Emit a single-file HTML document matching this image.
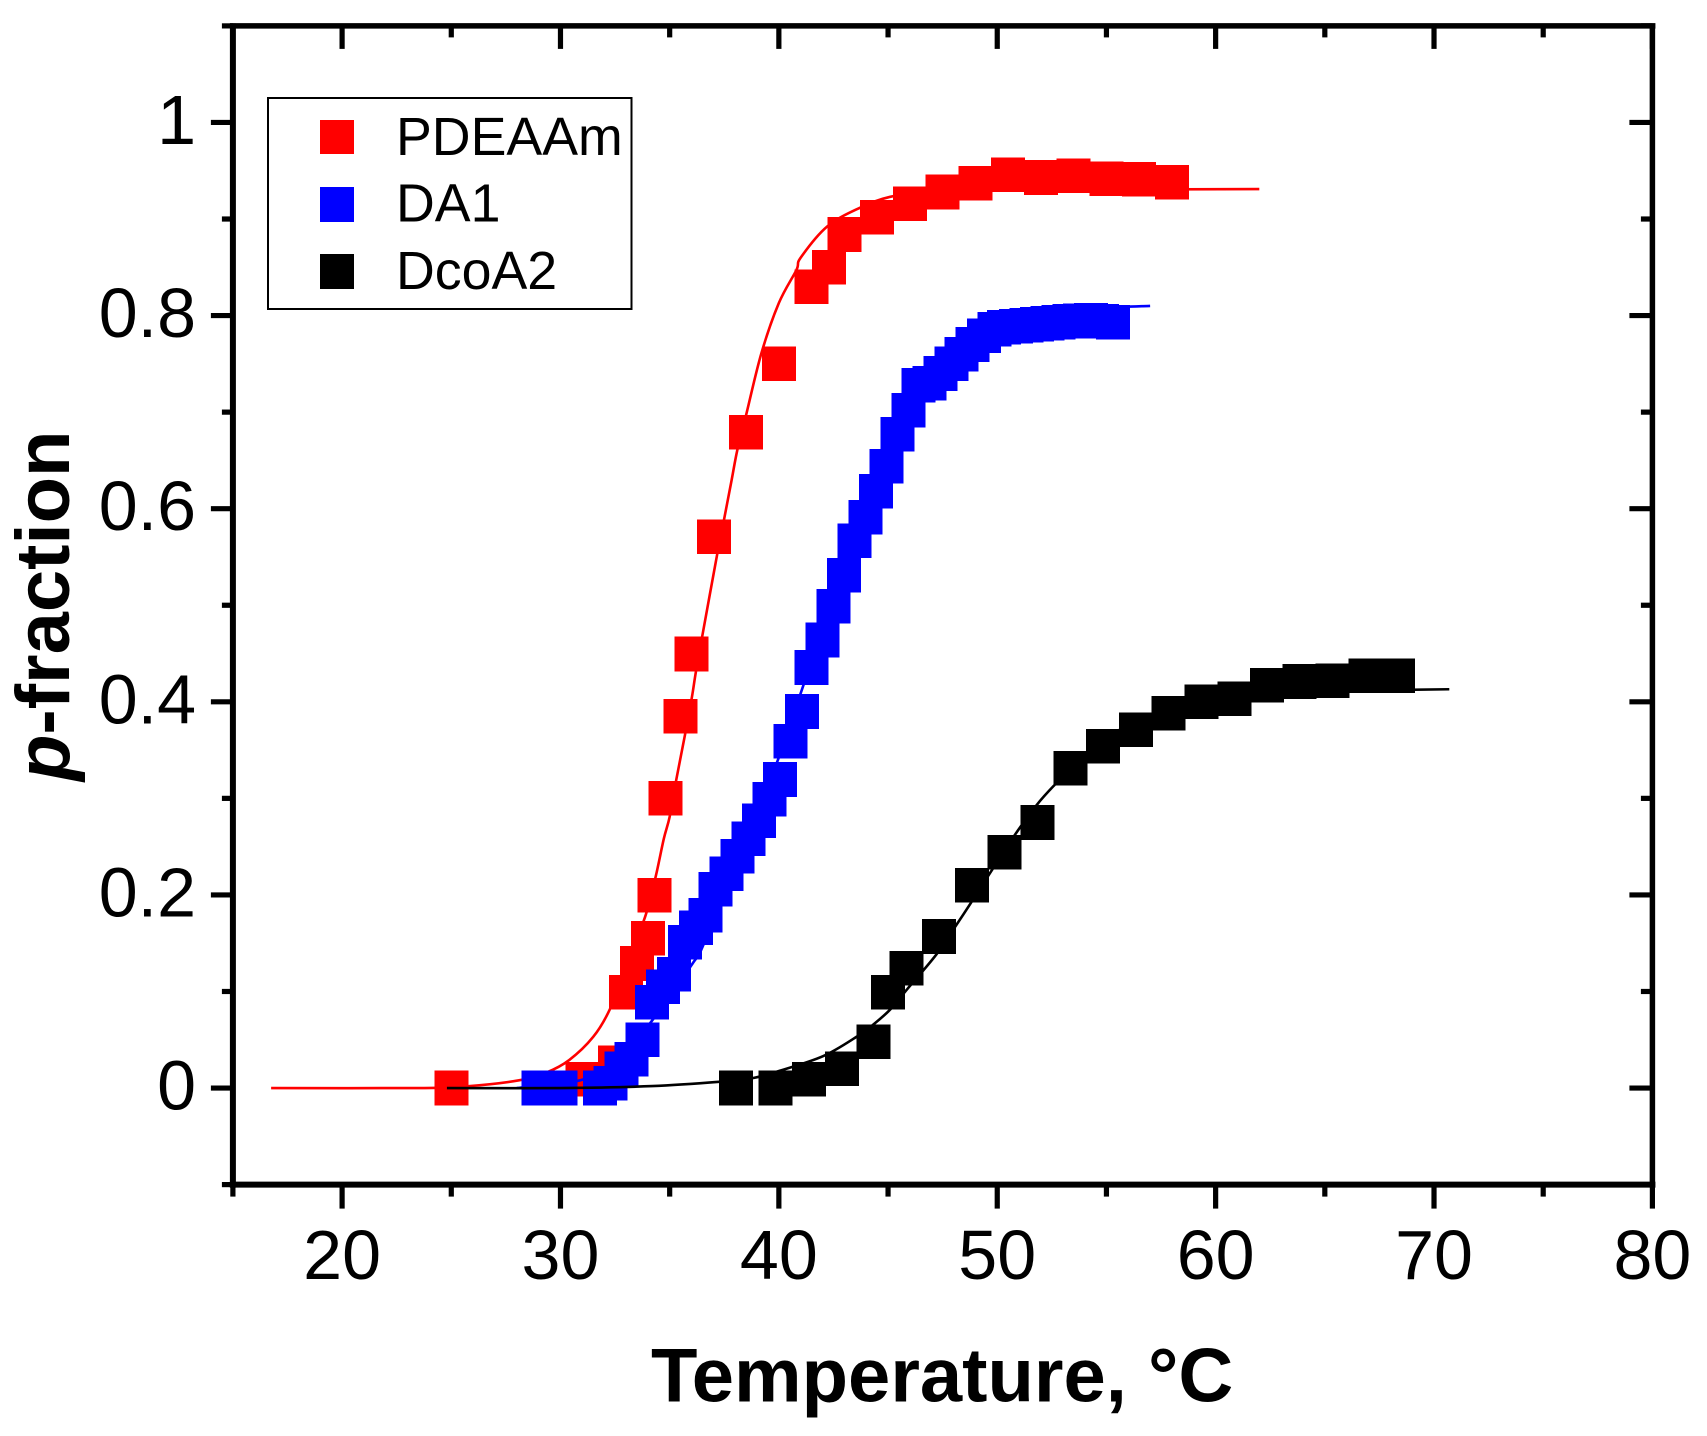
<!DOCTYPE html>
<html lang="en">
<head>
<meta charset="utf-8">
<title>p-fraction vs temperature</title>
<style>
html,body{margin:0;padding:0;background:#fff;}
#chart{display:block;width:1707px;height:1436px;font-family:"Liberation Sans",Arial,sans-serif;}
</style>
</head>
<body>
<svg id="chart" xmlns="http://www.w3.org/2000/svg" width="1707" height="1436" viewBox="0 0 1707 1436">
  <rect x="0" y="0" width="1707" height="1436" fill="#fff"/>
  <g id="series-layer"></g>
  <g id="axes-layer"></g>
  <text x="651" y="1401.5" font-size="76" font-weight="bold" fill="#000">Temperature, °C</text>
  <text transform="translate(69,781) rotate(-90)" font-size="76" font-weight="bold" fill="#000"><tspan font-style="italic">p</tspan>-fraction</text>
  <g>
    <rect x="268" y="98" width="363.5" height="211" fill="#fff" stroke="#000" stroke-width="2"/>
    <rect x="320" y="120" width="34" height="34" fill="#ff0000" shape-rendering="crispEdges"/>
    <text x="396" y="155" font-size="53.7" fill="#000">PDEAAm</text>
    <rect x="320" y="187" width="34" height="35" fill="#0000ff" shape-rendering="crispEdges"/>
    <text x="396" y="221.5" font-size="53.7" fill="#000">DA1</text>
    <rect x="320" y="254" width="34" height="35" fill="#000" shape-rendering="crispEdges"/>
    <text x="396" y="289" font-size="53.7" fill="#000">DcoA2</text>
  </g>
</svg>
<script>
// Tick data
const xMajorTicks = [20, 30, 40, 50, 60, 70, 80];
const xMinorTicks = [15, 25, 35, 45, 55, 65, 75];
const yMajorTicks = [0, 0.2, 0.4, 0.6, 0.8, 1];
const yMinorTicks = [-0.1, 0.1, 0.3, 0.5, 0.7, 0.9, 1.1];
const xTickLabels = ['20', '30', '40', '50', '60', '70', '80'];
const yTickLabels = ['0', '0.2', '0.4', '0.6', '0.8', '1'];

// PDEAAm measurements and fit
const pdeaamTemp = [25, 31, 32.5, 33, 33.5, 34, 34.3, 34.82, 35.5, 36, 37.02, 38.5, 40, 41.5, 42.3, 43, 44.5, 46, 47.5, 49, 50.5, 52, 53.5, 55, 56.5, 58];
const pdeaamFrac = [0, 0.0093, 0.026, 0.0994, 0.129, 0.155, 0.1995, 0.30, 0.385, 0.4495, 0.571, 0.679, 0.75, 0.83, 0.85, 0.884, 0.902, 0.916, 0.928, 0.937, 0.946, 0.943, 0.945, 0.9415, 0.941, 0.938];
const pdeaamFitTemp = [16.75, 23.55, 25.8, 28.1, 29.35, 30.4, 31.5, 32.25, 33, 33.9, 34.36, 34.73, 35, 35.3, 35.7, 36.02, 36.2, 36.5, 37.17, 37.5, 37.84, 38.1, 38.5, 39.2, 40, 40.8, 41, 42.2, 43.65, 45.1, 47, 50, 62];
const pdeaamFitFrac = [0, 0, 0.002, 0.008, 0.016, 0.029, 0.053, 0.081, 0.125, 0.179, 0.219, 0.258, 0.281, 0.319, 0.3656, 0.405, 0.431, 0.469, 0.552, 0.59, 0.63, 0.661, 0.697, 0.761, 0.813, 0.847, 0.86, 0.892, 0.911, 0.923, 0.928, 0.93, 0.931];

// DA1 measurements and fit
const da1Temp = [29, 29.5, 30, 31.8, 32.3, 32.8, 33.25, 33.75, 34.2, 34.7, 35.2, 35.7, 36.2, 36.65, 37.1, 37.6, 38.1, 38.6, 39.08, 39.58, 40.05, 40.54, 41.05, 41.5, 42, 42.5, 42.98, 43.47, 43.97, 44.45, 44.93, 45.44, 45.93, 46.4, 46.9, 47.4, 47.9, 48.36, 48.87, 49.4, 49.87, 50.3, 50.85, 51.35, 51.83, 52.3, 52.8, 53.3, 53.8, 54.3, 54.8, 55.3];
const da1Frac = [0, 0, 0, 0, 0.005, 0.02, 0.03, 0.05, 0.089, 0.105, 0.118, 0.151, 0.166, 0.179, 0.206, 0.222, 0.24, 0.258, 0.277, 0.299, 0.3195, 0.359, 0.39, 0.4355, 0.464, 0.499, 0.531, 0.567, 0.591, 0.618, 0.644, 0.677, 0.702, 0.728, 0.73, 0.74, 0.75, 0.76, 0.77, 0.779, 0.786, 0.788, 0.789, 0.79, 0.791, 0.792, 0.793, 0.794, 0.7945, 0.795, 0.794, 0.793];
const da1FitTemp = [28, 30.9, 32.5, 34.2, 36.05, 36.5, 38, 39.96, 41.1, 43, 45, 47, 49, 51, 53, 55, 57];
const da1FitFrac = [0, 0.008, 0.025, 0.07, 0.129, 0.146, 0.23, 0.34, 0.4155, 0.54, 0.66, 0.74, 0.78, 0.795, 0.803, 0.808, 0.81];

// DcoA2 measurements and fit
const dcoa2Temp = [38.03, 39.85, 41.37, 42.88, 44.34, 45, 45.85, 47.33, 48.84, 50.34, 51.85, 53.36, 54.85, 56.36, 57.85, 59.36, 60.87, 62.36, 63.85, 65.36, 66.87, 68.35];
const dcoa2Frac = [0, 0, 0.0093, 0.02, 0.048, 0.0994, 0.124, 0.157, 0.21, 0.244, 0.275, 0.331, 0.354, 0.371, 0.388, 0.40, 0.403, 0.417, 0.421, 0.422, 0.427, 0.427];
const dcoa2FitTemp = [24.8, 30, 34.2, 37.3, 38.8, 40.04, 42.02, 43.55, 44.39, 45.15, 45.9, 47.2, 48.13, 48.8, 49.65, 50.8, 51.8, 52.63, 54, 56, 58, 60, 62, 65, 70.7];
const dcoa2FitFrac = [0, 0, 0.002, 0.0065, 0.0103, 0.0179, 0.033, 0.053, 0.067, 0.0825, 0.103, 0.138, 0.169, 0.192, 0.222, 0.262, 0.293, 0.314, 0.345, 0.376, 0.39, 0.402, 0.408, 0.411, 0.413];

const SVG_NS = 'http://www.w3.org/2000/svg';
const xDomain = [15, 80];
const xPixels = [232.9, 1652.4];
const yDomain = [-0.1, 1.1];
const yPixels = [1184.6, 25.9];

function xScale(v) {
  return xPixels[0] + (v - xDomain[0]) * (xPixels[1] - xPixels[0]) / (xDomain[1] - xDomain[0]);
}
function yScale(v) {
  return yPixels[0] + (v - yDomain[0]) * (yPixels[1] - yPixels[0]) / (yDomain[1] - yDomain[0]);
}
function make(tag, attrs, parent) {
  const node = document.createElementNS(SVG_NS, tag);
  Object.keys(attrs).forEach(function (k) { node.setAttribute(k, attrs[k]); });
  parent.appendChild(node);
  return node;
}
// Smooth path through the scaled fit samples (Catmull-Rom to cubic Bezier)
function smoothPath(temps, fracs) {
  const p = temps.map(function (t, i) { return [xScale(t), yScale(fracs[i])]; });
  let d = 'M' + p[0][0].toFixed(2) + ' ' + p[0][1].toFixed(2);
  for (let i = 0; i < p.length - 1; i++) {
    const a = p[Math.max(i - 1, 0)];
    const b = p[i];
    const c = p[i + 1];
    const e = p[Math.min(i + 2, p.length - 1)];
    const c1x = b[0] + (c[0] - a[0]) / 6;
    const c1y = b[1] + (c[1] - a[1]) / 6;
    const c2x = c[0] - (e[0] - b[0]) / 6;
    const c2y = c[1] - (e[1] - b[1]) / 6;
    d += ' C' + c1x.toFixed(2) + ' ' + c1y.toFixed(2) + ' ' + c2x.toFixed(2) + ' ' + c2y.toFixed(2) + ' ' + c[0].toFixed(2) + ' ' + c[1].toFixed(2);
  }
  return d;
}

const seriesLayer = document.getElementById('series-layer');
const axesLayer = document.getElementById('axes-layer');

function drawSeries(key, color, temps, fracs, fitTemps, fitFracs) {
  const group = make('g', {}, seriesLayer);
  
  
  const fit = make('path', {
    d: smoothPath(fitTemps, fitFracs), fill: 'none', stroke: color, 'stroke-width': 2.6, 'stroke-linejoin': 'round'
  }, group);
  
  
  temps.forEach(function (t, i) {
    const marker = make('rect', {
      x: (xScale(t) - 17).toFixed(2),
      y: (yScale(fracs[i]) - 17.3).toFixed(2),
      width: 34, height: 34.6, fill: color, 'shape-rendering': 'crispEdges'
    }, group);
    
    
  });
  // the fit runs on top of earlier series' markers
  group.appendChild(fit);
}

drawSeries('pdeaam', '#ff0000', pdeaamTemp, pdeaamFrac, pdeaamFitTemp, pdeaamFitFrac);
drawSeries('da1', '#0000ff', da1Temp, da1Frac, da1FitTemp, da1FitFrac);
drawSeries('dcoa2', '#000000', dcoa2Temp, dcoa2Frac, dcoa2FitTemp, dcoa2FitFrac);

const axisLeft = xScale(xDomain[0]);
const axisRight = xScale(xDomain[1]);
const axisTop = yScale(yDomain[1]);
const axisBottom = yScale(yDomain[0]);

function drawLine(name, x1, y1, x2, y2, w) {
  const ln = make('line', { x1: x1, y1: y1, x2: x2, y2: y2, stroke: '#000', 'stroke-width': w }, axesLayer);
  
  
}

drawLine('x-axis-bottom', axisLeft - 3, axisBottom, axisRight + 3, axisBottom, 6);
drawLine('x-axis-top', axisLeft - 3, axisTop, axisRight + 3, axisTop, 5.5);
drawLine('y-axis-left', axisLeft, axisTop - 2.5, axisLeft, axisBottom + 3, 6);
drawLine('y-axis-right', axisRight, axisTop - 2.5, axisRight, axisBottom + 3, 5.5);

xMajorTicks.forEach(function (v) {
  drawLine('x-major-tick-bottom', xScale(v), axisBottom, xScale(v), axisBottom + 24, 5.2);
  drawLine('x-major-tick-top', xScale(v), axisTop, xScale(v), axisTop + 23, 5.2);
});
xMinorTicks.forEach(function (v) {
  drawLine('x-minor-tick-bottom', xScale(v), axisBottom, xScale(v), axisBottom + 12, 5.2);
  drawLine('x-minor-tick-top', xScale(v), axisTop, xScale(v), axisTop + 11.5, 5.2);
});
yMajorTicks.forEach(function (v) {
  drawLine('y-major-tick-left', axisLeft, yScale(v), axisLeft - 22, yScale(v), 5.2);
  drawLine('y-major-tick-right', axisRight, yScale(v), axisRight - 23, yScale(v), 5.2);
});
yMinorTicks.forEach(function (v) {
  drawLine('y-minor-tick-left', axisLeft, yScale(v), axisLeft - 11, yScale(v), 5.2);
  drawLine('y-minor-tick-right', axisRight, yScale(v), axisRight - 11.5, yScale(v), 5.2);
});

xMajorTicks.forEach(function (v, i) {
  const label = make('text', {
    x: xScale(v), y: 1279, 'font-size': 70, 'text-anchor': 'middle', fill: '#000'
  }, axesLayer);
  label.textContent = xTickLabels[i];
  
  
});
yMajorTicks.forEach(function (v, i) {
  const label = make('text', {
    x: 196, y: yScale(v) + 21.5, 'font-size': 70, 'text-anchor': 'end', fill: '#000'
  }, axesLayer);
  label.textContent = yTickLabels[i];
  
  
});
</script>
</body>
</html>
